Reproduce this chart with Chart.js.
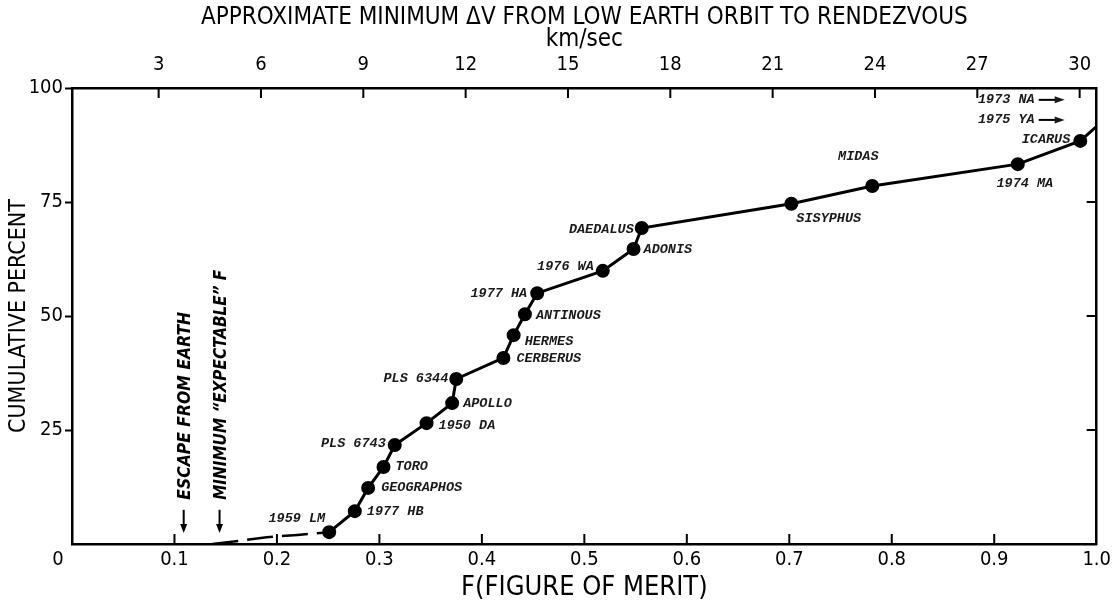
<!DOCTYPE html>
<html>
<head>
<meta charset="utf-8">
<script src="https://cdn.jsdelivr.net/npm/chart.js@4.4.0/dist/chart.umd.min.js"></script>
<style>
  html, body { margin: 0; padding: 0; background: #fff; }
  #wrap { width: 1115px; height: 601px; position: relative; }
</style>
</head>
<body>
<div id="wrap"><canvas id="merit-chart"></canvas></div>
<script>
"use strict";

// asteroids on the curve: F (figure of merit) and cumulative percent
const asteroidNames = ["1959 LM", "1977 HB", "GEOGRAPHOS", "TORO", "PLS 6743", "1950 DA", "APOLLO",
  "PLS 6344", "CERBERUS", "HERMES", "ANTINOUS", "1977 HA", "1976 WA", "ADONIS", "DAEDALUS",
  "SISYPHUS", "MIDAS", "1974 MA", "ICARUS"];
const asteroidF = [0.251, 0.276, 0.289, 0.304, 0.315, 0.346, 0.371, 0.375, 0.421, 0.431, 0.442,
  0.454, 0.518, 0.548, 0.556, 0.702, 0.781, 0.923, 0.984];
const asteroidPct = [2.6, 7.2, 12.3, 16.9, 21.7, 26.5, 30.9, 36.2, 40.8, 45.8, 50.4,
  55.0, 59.9, 64.7, 69.3, 74.6, 78.5, 83.3, 88.4];

// the curve leaves the frame on the right, heading for the off-scale asteroids
const edgeF = [1.0];
const edgePct = [91.6];

// dashed lead-in from the minimum expectable F
const leadF = [0.137, 0.163, 0.19, 0.22, 0.251];
const leadPct = [0, 0.7, 1.5, 2.0, 2.6];

// asteroids beyond F = 1 (shown with arrows)
const offscaleNames = ["1973 NA", "1975 YA"];
const offscalePct = [97.4, 93.0];

// reference marks on the F axis
const markerNames = ["ESCAPE FROM EARTH", "MINIMUM \u201CEXPECTABLE\u201D F"];
const markerF = [0.109, 0.144];

// axes
const fTicks = [0, 0.1, 0.2, 0.3, 0.4, 0.5, 0.6, 0.7, 0.8, 0.9, 1.0];
const fTickLabels = ["0", "0.1", "0.2", "0.3", "0.4", "0.5", "0.6", "0.7", "0.8", "0.9", "1.0"];
const dvTicks = [3, 6, 9, 12, 15, 18, 21, 24, 27, 30];
const pctTicks = [25, 50, 75, 100];

// where each curve label sits relative to its point: [align, dx, dy]
const labelPlace = [
  ["right", -4, -14], ["left", 12, 0], ["left", 13, 0], ["left", 12, 0], ["right", -9, -1],
  ["left", 12, 2], ["left", 11, 0], ["right", -8, 0], ["left", 13, 1], ["left", 11, 6],
  ["left", 11, 1], ["right", -10, 0], ["right", -9, -4], ["left", 10, 1], ["right", -8, 2],
  ["left", 5, 15], ["center", -14, -29], ["center", 7, 19], ["right", -10, -1]
];

const SANS = '"DejaVu Sans Condensed", "Liberation Sans Narrow", "DejaVu Sans", sans-serif';
const LABEL_FONT = 'italic bold 13.5px "Liberation Mono", "DejaVu Sans Mono", monospace';
const axisFont = { family: SANS, size: 20, lineHeight: 1.2 };

const mainLine = asteroidF.map((f, i) => ({ x: f, y: asteroidPct[i] }))
  .concat(edgeF.map((f, i) => ({ x: f, y: edgePct[i] })));
const leadLine = leadF.map((f, i) => ({ x: f, y: leadPct[i] }));

function arrowDown(ctx, x, yTop, yTip) {
  ctx.beginPath();
  ctx.moveTo(x, yTop);
  ctx.lineTo(x, yTip - 6);
  ctx.stroke();
  ctx.beginPath();
  ctx.moveTo(x - 3.5, yTip - 9);
  ctx.lineTo(x + 3.5, yTip - 9);
  ctx.lineTo(x, yTip);
  ctx.closePath();
  ctx.fill();
}

function arrowRight(ctx, xStart, xTip, y) {
  ctx.beginPath();
  ctx.moveTo(xStart, y);
  ctx.lineTo(xTip - 6, y);
  ctx.stroke();
  ctx.beginPath();
  ctx.moveTo(xTip - 10, y - 3.5);
  ctx.lineTo(xTip - 10, y + 3.5);
  ctx.lineTo(xTip, y);
  ctx.closePath();
  ctx.fill();
}

const annotations = {
  id: "annotations",
  afterDraw(chart) {
    const { ctx, chartArea: a, scales } = chart;
    ctx.save();
    ctx.strokeStyle = "#000";
    ctx.fillStyle = "#000";

    // inward tick marks on bottom, top and right sides of the frame
    ctx.lineWidth = 2;
    ctx.beginPath();
    fTicks.slice(1, -1).forEach(v => {
      const px = scales.x.getPixelForValue(v);
      ctx.moveTo(px, a.bottom);
      ctx.lineTo(px, a.bottom - 10);
    });
    dvTicks.forEach(v => {
      const px = scales.xTop.getPixelForValue(v);
      ctx.moveTo(px, a.top);
      ctx.lineTo(px, a.top + 10);
    });
    pctTicks.slice(0, -1).forEach(v => {
      const py = scales.y.getPixelForValue(v);
      ctx.moveTo(a.right, py);
      ctx.lineTo(a.right - 10, py);
    });
    ctx.stroke();

    // shared origin label
    ctx.font = axisFont.size + "px " + SANS;
    ctx.textAlign = "center";
    ctx.textBaseline = "middle";
    ctx.fillText("0", a.left - 14, a.bottom + 16);

    // names on the curve
    const meta = chart.getDatasetMeta(0);
    ctx.fillStyle = "#1a1a1a";
    ctx.font = LABEL_FONT;
    asteroidNames.forEach((name, i) => {
      const pt = meta.data[i];
      const [align, dx, dy] = labelPlace[i];
      ctx.textAlign = align;
      ctx.fillText(name, pt.x + dx, pt.y + dy);
    });

    // off-scale asteroids
    ctx.lineWidth = 2;
    offscaleNames.forEach((name, i) => {
      const py = scales.y.getPixelForValue(offscalePct[i]);
      const tip = a.right - 32;
      ctx.textAlign = "right";
      ctx.fillText(name, tip - 30, py);
      arrowRight(ctx, tip - 26, tip, py);
    });

    // vertical reference notes with arrows
    ctx.fillStyle = "#000";
    ctx.lineWidth = 2;
    ctx.font = "italic bold 18px " + SANS;
    markerNames.forEach((name, i) => {
      const px = scales.x.getPixelForValue(markerF[i]);
      const yTop = scales.y.getPixelForValue(7.5);
      const yTip = scales.y.getPixelForValue(2.4);
      arrowDown(ctx, px, yTop, yTip);
      ctx.save();
      ctx.translate(px + 2, yTop - 10);
      ctx.rotate(-Math.PI / 2);
      ctx.textAlign = "left";
      ctx.textBaseline = "middle";
      ctx.fillText(name, 0, 0, i === 0 ? 188 : 230);
      ctx.restore();
    });
    ctx.restore();
  }
};

function renderChart(canvasId) {
  const ctx = document.getElementById(canvasId).getContext("2d");
  return new Chart(ctx, {
    type: "line",
    data: {
      datasets: [
        {
          data: mainLine,
          borderColor: "#000",
          borderWidth: 3,
          pointRadius: c => (c.dataIndex < asteroidNames.length ? 5.5 : 0),
          pointBackgroundColor: "#000",
          pointBorderColor: "#000",
          tension: 0,
        },
        {
          data: leadLine,
          borderColor: "#000",
          borderWidth: 2.5,
          borderDash: [26, 9],
          pointRadius: 0,
          tension: 0,
        },
      ],
    },
    options: {
      responsive: true,
      maintainAspectRatio: false,
      animation: false,
      layout: { padding: 0 },
      plugins: {
        legend: { display: false },
        tooltip: { enabled: false },
      },
      scales: {
        x: {
          type: "linear",
          position: "bottom",
          min: 0,
          max: 1,
          afterBuildTicks: s => { s.ticks = fTicks.map(v => ({ value: v })); },
          afterFit: s => { s.height = 57; },
          grid: { display: true, drawOnChartArea: false, drawTicks: false },
          border: { display: true, color: "#000", width: 2.5 },
          ticks: {
            padding: 4,
            color: "#000",
            font: axisFont,
            maxRotation: 0,
            autoSkip: false,
            callback: (v, i) => (i === 0 ? "" : fTickLabels[i]),
          },
          title: {
            display: true,
            text: "F(FIGURE OF MERIT)",
            color: "#000",
            font: { family: SANS, size: 27, lineHeight: 1.0 },
            padding: { top: 0, bottom: 0 },
          },
        },
        xTop: {
          type: "linear",
          position: "top",
          min: 0.46,
          max: 30.5,
          afterBuildTicks: s => { s.ticks = dvTicks.map(v => ({ value: v })); },
          afterFit: s => { s.height = 88; },
          grid: { display: true, drawOnChartArea: false, drawTicks: false },
          border: { display: true, color: "#000", width: 2.5 },
          ticks: { padding: 11, color: "#000", font: axisFont, maxRotation: 0, autoSkip: false },
          title: {
            display: true,
            text: ["APPROXIMATE MINIMUM \u0394V FROM LOW EARTH ORBIT TO RENDEZVOUS", "km/sec"],
            color: "#000",
            font: { family: SANS, size: 24, lineHeight: "22px" },
            padding: { top: 7, bottom: 0 },
          },
        },
        y: {
          type: "linear",
          position: "left",
          min: 0,
          max: 100,
          afterBuildTicks: s => { s.ticks = pctTicks.map(v => ({ value: v })); },
          afterFit: s => { s.width = 72; },
          grid: { display: true, drawOnChartArea: false, drawTicks: true, tickLength: 7, tickWidth: 2, tickColor: "#000" },
          border: { display: true, color: "#000", width: 2.5 },
          ticks: { padding: 2, color: "#000", font: axisFont },
          title: {
            display: true,
            text: "CUMULATIVE PERCENT",
            color: "#000",
            font: { family: SANS, size: 23, lineHeight: 1.2 },
            padding: { top: 5, bottom: 0 },
          },
        },
        yRight: {
          type: "linear",
          position: "right",
          min: 0,
          max: 100,
          afterFit: s => { s.width = 13; },
          grid: { display: true, drawOnChartArea: false, drawTicks: false },
          border: { display: true, color: "#000", width: 2.5 },
          ticks: { display: false },
        },
      },
    },
    plugins: [annotations],
  });
}

const meritChart = renderChart("merit-chart");
</script>
</body>
</html>
